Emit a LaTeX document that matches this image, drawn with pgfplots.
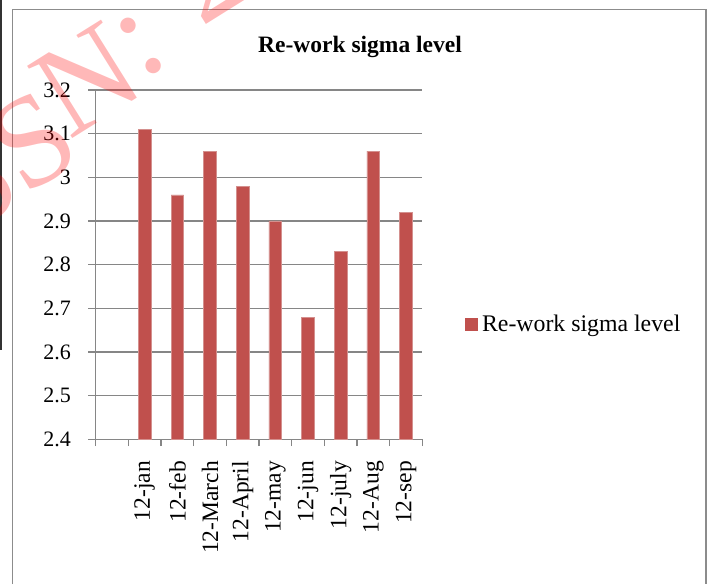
\documentclass[border=0pt]{standalone}
\usepackage{fontspec}
\setmainfont{Liberation Serif}
\usepackage{pgfplots}
\pgfplotsset{compat=1.18}
\definecolor{barred}{HTML}{C0504D}
\definecolor{baredge}{HTML}{D4908E}
\definecolor{axgray}{HTML}{868686}
\definecolor{framegray}{HTML}{8C8C8C}
\begin{document}
\begin{tikzpicture}[x=1pt,y=1pt]
\useasboundingbox (0,0) rectangle (708,584);
% outer frame
\draw[framegray, line width=1.5pt] (12.5,0) -- (12.5,574.5) -- (706,574.5) -- (706,0);
\draw[black!80, line width=2.5pt] (1,584) -- (1,234);
\begin{axis}[
  at={(95.7pt,144.7pt)}, anchor=south west,
  scale only axis, width=326.6pt, height=349.3pt,
  xmin=-0.5, xmax=9.5, ymin=2.4, ymax=3.2,
  axis lines=left, axis line style={-, axgray, line width=1.3pt},
  tick align=outside,
  major tick length=7.7pt, minor tick length=6.7pt,
  xtick={1,...,9},
  xticklabels={12-jan,12-feb,12-March,12-April,12-may,12-jun,12-july,12-Aug,12-sep},
  major x tick style={draw=none},
  minor xtick={-0.5,0.5,...,9.5},
  minor x tick style={axgray, line width=1.3pt},
  ytick={2.4,2.5,...,3.21},
  y tick style={axgray, line width=1.3pt},
  ymajorgrids, major grid style={axgray, line width=1.3pt},
  /pgf/number format/assume math mode=true,
  yticklabel style={font=\fontsize{22}{26}\selectfont, inner sep=0pt, xshift=-17pt},
  xticklabel shift=14pt,
  xticklabel style={font=\fontsize{23.5}{27}\selectfont, rotate=90, anchor=east, inner sep=0pt},
  legend style={draw=none, fill=none, at={(axis description cs:1.1286,0.3287)}, anchor=west,
    inner sep=0pt, font=\fontsize{23.8}{27}\selectfont,
    nodes={inner xsep=4.7pt, inner ysep=0pt}},
  legend image code/.code={\fill[barred] (0pt,-6pt) rectangle (12.4pt,6pt);},
]
\addplot[ybar, bar width=12.7pt, fill=barred, draw=baredge, line width=0.5pt, bar shift=0pt]
  coordinates {(1,3.11) (2,2.96) (3,3.06) (4,2.98) (5,2.90) (6,2.68) (7,2.83) (8,3.06) (9,2.92)};
\addlegendentry{Re-work sigma level}
\end{axis}
\node[anchor=base, font=\fontsize{23.5}{27}\selectfont\bfseries] at (360,531) {Re-work sigma level};
% watermark
\begin{scope}[opacity=0.28, every node/.style={text=red, inner sep=0pt, anchor=center, rotate=32, font=\fontsize{130}{130}\selectfont}]
\node at (-26,402) {S};
\node at (33,443) {S};
\node at (87,504) {N};
\node at (141.5,538.5) {:};
\node at (206,610.5) {2};
\end{scope}
\end{tikzpicture}
\end{document}
